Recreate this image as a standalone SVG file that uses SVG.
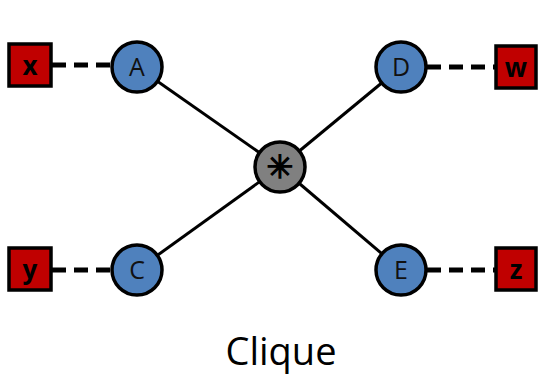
<svg xmlns="http://www.w3.org/2000/svg" width="538" height="377" viewBox="0 0 538 377">
<style>
.blue{fill:#4F81BD;stroke:#000;stroke-width:3.5}
.red{fill:#C00000;stroke:#000;stroke-width:3.5}
.gray{fill:#808080;stroke:#000;stroke-width:3.5}
.solid{stroke:#000;stroke-width:3;fill:none}
.dash{stroke:#000;stroke-width:5;stroke-dasharray:14 8;fill:none}
.lbl{font-family:"Open Sans","Noto Sans",sans-serif;font-size:25px;fill:#111;text-anchor:middle}
.blbl{font-family:"Open Sans","Noto Sans",sans-serif;font-size:26px;font-weight:bold;fill:#000;text-anchor:middle}
</style>
<rect width="538" height="377" fill="#fff"/>
<g id="connectors">
<line class="solid" x1="137" y1="67" x2="280" y2="167"/>
<line class="solid" x1="401" y1="67" x2="280" y2="167"/>
<line class="solid" x1="137" y1="270" x2="280" y2="167"/>
<line class="solid" x1="401" y1="270" x2="280" y2="167"/>
<line class="dash" x1="52" y1="65" x2="112" y2="65"/>
<line class="dash" x1="427" y1="67" x2="495" y2="67"/>
<line class="dash" x1="52" y1="270" x2="112" y2="270"/>
<line class="dash" x1="427" y1="270" x2="495" y2="270"/>
</g>
<g id="center"><circle class="gray" cx="280" cy="167" r="25"/><text x="280" y="178" font-family="DejaVu Sans,sans-serif" font-size="32" text-anchor="middle" fill="#000" stroke="#000" stroke-width="1.3">✳</text></g>
<g id="A"><circle class="blue" cx="137" cy="67" r="25"/><text class="lbl" x="137" y="76">A</text></g>
<g id="D"><circle class="blue" cx="401" cy="67" r="25"/><text class="lbl" x="401" y="76">D</text></g>
<g id="C"><circle class="blue" cx="137" cy="270" r="25"/><text class="lbl" x="137" y="279">C</text></g>
<g id="E"><circle class="blue" cx="401" cy="270" r="25"/><text class="lbl" x="401" y="279">E</text></g>
<g id="x"><rect class="red" x="9" y="44" width="42" height="42"/><text class="blbl" x="30" y="75">x</text></g>
<g id="w"><rect class="red" x="496" y="46" width="40" height="42"/><text class="blbl" x="516" y="77">w</text></g>
<g id="y"><rect class="red" x="9" y="248" width="42" height="42"/><text class="blbl" x="30" y="279">y</text></g>
<g id="z"><rect class="red" x="496" y="248" width="40" height="42"/><text class="blbl" x="516" y="279">z</text></g>
<text x="281" y="365" font-family="Open Sans,Noto Sans,sans-serif" font-size="38" text-anchor="middle" fill="#000">Clique</text>
</svg>
